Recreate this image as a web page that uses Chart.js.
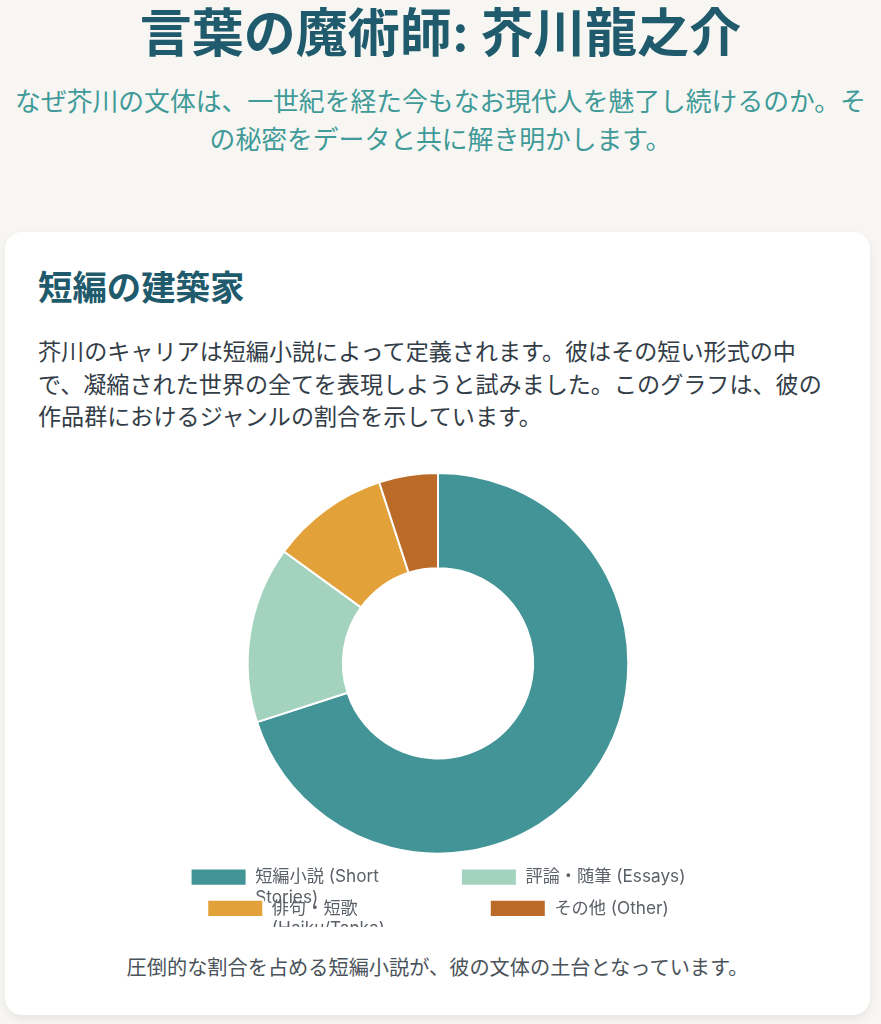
<!DOCTYPE html>
<html lang="ja">
<head>
<meta charset="utf-8">
<title>言葉の魔術師: 芥川龍之介</title>
<script src="https://cdn.jsdelivr.net/npm/chart.js@4.4.1/dist/chart.umd.min.js"></script>
<style>
    html, body { margin: 0; padding: 0; }
    body {
        background: #f7f6f3;
        font-family: Inter, "Noto Sans CJK JP", "Noto Sans", sans-serif;
        width: 881px;
        height: 1024px;
        overflow: hidden;
    }
    header { text-align: center; padding-top: 6px; }
    h1 {
        margin: 0;
        font-size: 52px;
        line-height: 56px;
        font-weight: 700;
        color: #1f5b6c;
    }
    .sub {
        margin: 21px 8px 0 8px;
        font-size: 25.8px;
        line-height: 37.5px;
        color: #3f9a98;
    }
    .card {
        position: absolute;
        left: 5px;
        top: 232px;
        width: 865px;
        height: 783px;
        background: #fff;
        border-radius: 17px;
        box-shadow: 0 4px 10px rgba(0,0,0,0.07);
        box-sizing: border-box;
        padding: 34px 33px;
    }
    h2 {
        margin: 0;
        font-size: 34.4px;
        line-height: 44px;
        font-weight: 700;
        color: #1f5b6c;
    }
    .card p.body {
        margin: 26px 0 0 0;
        font-size: 23.1px;
        line-height: 32.6px;
        color: #333d47;
    }
    .chart-container {
        position: relative;
        width: 600px;
        height: 455px;
        margin: 38px auto 0 auto;
    }
    .caption {
        margin: 27px 0 0 0;
        text-align: center;
        font-size: 20.2px;
        line-height: 28px;
        color: #4a525a;
    }
</style>
</head>
<body>
<header>
    <h1>言葉の魔術師: 芥川龍之介</h1>
    <p class="sub">なぜ芥川の文体は、一世紀を経た今もなお現代人を魅了し続けるのか。その秘密をデータと共に解き明かします。</p>
</header>
<div class="card">
    <h2>短編の建築家</h2>
    <p class="body">芥川のキャリアは短編小説によって定義されます。彼はその短い形式の中で、凝縮された世界の全てを表現しようと試みました。このグラフは、彼の作品群におけるジャンルの割合を示しています。</p>
    <div class="chart-container"><canvas id="genre_chart"></canvas></div>
    <p class="caption">圧倒的な割合を占める短編小説が、彼の文体の土台となっています。</p>
</div>
<script>
const genre_labels = ["短編小説 (Short Stories)", "評論・随筆 (Essays)", "俳句・短歌 (Haiku/Tanka)", "その他 (Other)"];
const genre_share = [70, 15, 10, 5];
const genre_colors = ["#439496", "#a3d2bf", "#e3a13a", "#bc6a28"];

// long labels get split on spaces, like the original page did
function wrap_label(label, max_len) {
    const words = label.split(" ");
    const lines = [];
    let cur = "";
    words.forEach(function (w) {
        if (cur && (cur + " " + w).length > max_len) {
            lines.push(cur);
            cur = w;
        } else {
            cur = cur ? cur + " " + w : w;
        }
    });
    if (cur) { lines.push(cur); }
    return lines.length > 1 ? lines : label;
}

function main() {
    const labels = genre_labels.map(function (l) { return wrap_label(l, 16); });

    new Chart(document.getElementById("genre_chart"), {
        type: "doughnut",
        data: {
            labels: labels,
            datasets: [{
                data: genre_share,
                backgroundColor: genre_colors,
                borderColor: "#ffffff",
                borderWidth: 2
            }]
        },
        options: {
            responsive: true,
            maintainAspectRatio: false,
            animation: false,
            cutout: "50%",
            plugins: {
                legend: {
                    position: "bottom",
                    labels: {
                        color: "#5b6168",
                        boxWidth: 56,
                        padding: 14,
                        font: { family: "Inter, 'Noto Sans CJK JP', sans-serif", size: 17.2 }
                    }
                },
                tooltip: { enabled: false }
            }
        }
    });
}

main();
</script>
</body>
</html>
